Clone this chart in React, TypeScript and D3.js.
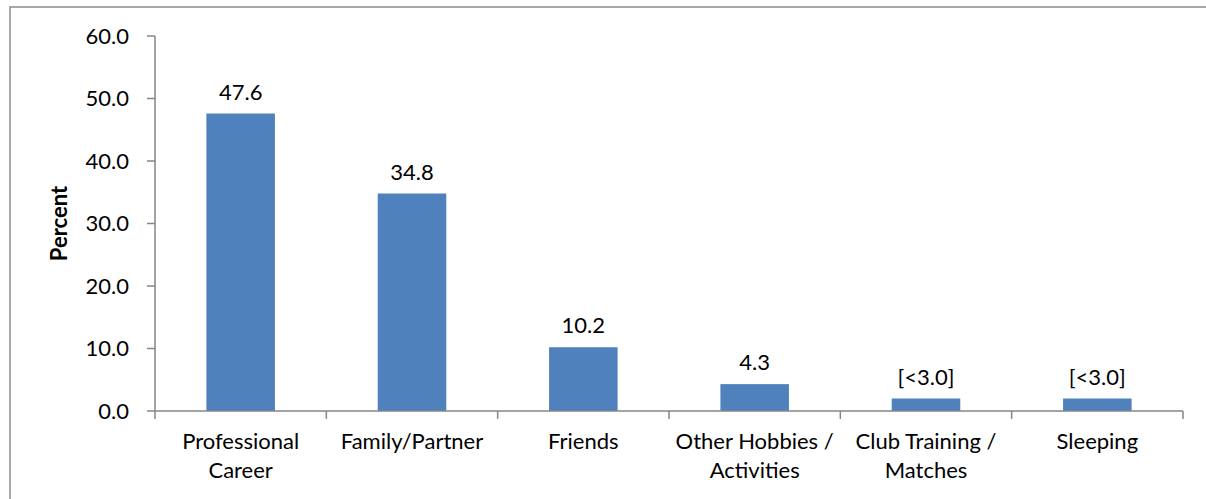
import * as d3 from "d3";

const categories = [
  ["Professional", "Career"],
  ["Family/Partner"],
  ["Friends"],
  ["Other Hobbies /", "Activities"],
  ["Club Training /", "Matches"],
  ["Sleeping"],
];
const values = [47.6, 34.8, 10.2, 4.3, 2.0, 2.0];
const valueLabels = ["47.6", "34.8", "10.2", "4.3", "[<3.0]", "[<3.0]"];
const yTicks = [0, 10, 20, 30, 40, 50, 60];

const W = 1206;
const H = 499;
const left = 155;
const right = 1183;
const top = 36;
const bottom = 411;
const axisColor = "#868686";
const barColor = "#4F81BD";
const font = "Lato, 'Open Sans', sans-serif";

export default function App() {
  const x = d3
    .scaleBand<number>()
    .domain(d3.range(categories.length))
    .range([left, right])
    .padding(0);
  const y = d3.scaleLinear().domain([0, 60]).range([bottom, top]);
  const barW = x.bandwidth() * 0.4;

  return (
    <svg
      width={W}
      height={H}
      style={{ position: "absolute", left: 0, top: 0, background: "#fff" }}
    >
      <rect x={10} y={7} width={W + 20} height={H + 20} fill="#fff" stroke="#8c8c8c" strokeWidth={1.5} />

      {/* bars */}
      {values.map((v, i) => {
        const cx = (x(i) ?? 0) + x.bandwidth() / 2;
        return (
          <g key={i}>
            <rect x={cx - barW / 2} y={y(v)} width={barW} height={bottom - y(v)} fill={barColor} />
            <text
              x={cx}
              y={y(v) - 14}
              textAnchor="middle"
              fontFamily={font}
              fontSize={22}
              fill="#000"
            >
              {valueLabels[i]}
            </text>
          </g>
        );
      })}

      {/* y axis */}
      <line x1={left} x2={left} y1={top} y2={bottom} stroke={axisColor} strokeWidth={1.5} />
      {yTicks.map((t) => (
        <g key={t}>
          <line x1={left - 8} x2={left} y1={y(t)} y2={y(t)} stroke={axisColor} strokeWidth={1.5} />
          <text
            x={left - 26}
            y={y(t)}
            dy="0.36em"
            textAnchor="end"
            fontFamily={font}
            fontSize={22}
            fill="#000"
          >
            {t.toFixed(1)}
          </text>
        </g>
      ))}

      {/* x axis */}
      <line x1={left} x2={right} y1={bottom} y2={bottom} stroke={axisColor} strokeWidth={1.5} />
      {d3.range(categories.length + 1).map((i) => {
        const tx = i < categories.length ? x(i) ?? 0 : right;
        return (
          <line key={i} x1={tx} x2={tx} y1={bottom} y2={bottom + 8} stroke={axisColor} strokeWidth={1.5} />
        );
      })}
      {categories.map((lines, i) => {
        const cx = (x(i) ?? 0) + x.bandwidth() / 2;
        return (
          <text key={i} textAnchor="middle" fontFamily={font} fontSize={22} fill="#000">
            {lines.map((l, j) => (
              <tspan key={j} x={cx} y={449 + j * 29}>
                {l}
              </tspan>
            ))}
          </text>
        );
      })}

      <text
        transform={`translate(67, ${(top + bottom) / 2}) rotate(-90)`}
        textAnchor="middle"
        fontFamily={font}
        fontSize={22}
        fontWeight="bold"
        fill="#000"
      >
        Percent
      </text>
    </svg>
  );
}
